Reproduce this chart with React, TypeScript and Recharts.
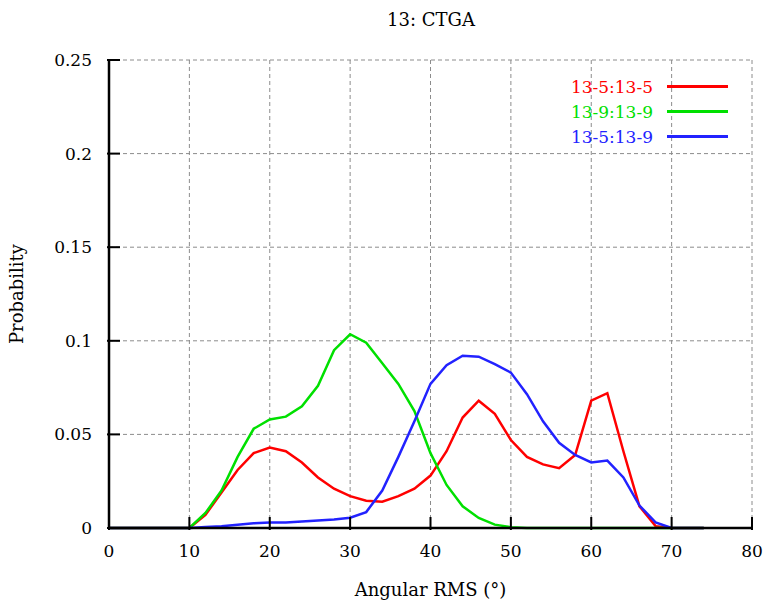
import { LineChart, Line, XAxis, YAxis, CartesianGrid, Legend } from 'recharts';

const angle = [0, 2, 4, 6, 8, 10, 12, 14, 16, 18, 20, 22, 24, 26, 28, 30, 32, 34, 36, 38, 40, 42, 44, 46, 48, 50, 52, 54, 56, 58, 60, 62, 64, 66, 68, 70, 72, 74];

const red55 = [0, 0, 0, 0, 0, 0, 0.007, 0.019, 0.031, 0.04, 0.043, 0.041, 0.035, 0.027, 0.021, 0.017, 0.0146, 0.014, 0.017, 0.021, 0.028, 0.041, 0.059, 0.068, 0.061, 0.047, 0.038, 0.034, 0.032, 0.039, 0.068, 0.072, 0.041, 0.0116, 0.001, 0, 0, 0];
const green99 = [0, 0, 0, 0, 0, 0, 0.008, 0.02, 0.038, 0.053, 0.058, 0.0595, 0.065, 0.076, 0.095, 0.1035, 0.099, 0.088, 0.077, 0.0625, 0.04, 0.023, 0.0116, 0.0054, 0.0018, 0.0004, 0, 0, 0, 0, 0, 0, 0, 0, 0, 0, 0, 0];
const blue59 = [0, 0, 0, 0, 0, 0, 0.0005, 0.001, 0.0017, 0.0025, 0.003, 0.003, 0.0035, 0.004, 0.0045, 0.0055, 0.0085, 0.02, 0.038, 0.057, 0.077, 0.087, 0.092, 0.0915, 0.0875, 0.083, 0.0715, 0.057, 0.0455, 0.039, 0.035, 0.036, 0.027, 0.012, 0.003, 0, 0, 0];

const xTicks = [0, 10, 20, 30, 40, 50, 60, 70, 80];
const yTicks = [0, 0.05, 0.1, 0.15, 0.2, 0.25];

const series = [
  { key: 'red55', name: '13-5:13-5', color: '#ff0000' },
  { key: 'green99', name: '13-9:13-9', color: '#00e000' },
  { key: 'blue59', name: '13-5:13-9', color: '#2222ff' },
];

const data = angle.map((x, i) => ({ x, red55: red55[i], green99: green99[i], blue59: blue59[i] }));

const FONT = '"DejaVu Serif", serif';
const TICK = 13;

const BottomTick = ({ x, y, payload }: any) => (
  <g>
    <line x1={x} y1={y} x2={x} y2={y - TICK} stroke="#000" strokeWidth={2} />
    <text x={x} y={y + 27} textAnchor="middle" fontSize={17} fontFamily={FONT} fill="#000">
      {payload.value}
    </text>
  </g>
);

const TopTick = ({ x, y }: any) => (
  <line x1={x} y1={y} x2={x} y2={y + TICK} stroke="#000" strokeWidth={2} />
);

const LeftTick = ({ x, y, payload }: any) => (
  <g>
    <line x1={x} y1={y} x2={x + TICK} y2={y} stroke="#000" strokeWidth={2} />
    <text x={x - 15} y={y + 6} textAnchor="end" fontSize={17} fontFamily={FONT} fill="#000">
      {String(payload.value)}
    </text>
  </g>
);

const RightTick = ({ x, y }: any) => (
  <line x1={x} y1={y} x2={x - TICK} y2={y} stroke="#000" strokeWidth={2} />
);

const LegendBox = () => (
  <div style={{ fontFamily: FONT }}>
    {series.map((s) => (
      <div key={s.key} style={{ display: 'flex', alignItems: 'center', justifyContent: 'flex-end', height: 25 }}>
        <span style={{ color: s.color, fontSize: 17 }}>{s.name}</span>
        <span style={{ display: 'inline-block', width: 61, height: 3, background: s.color, marginLeft: 14 }} />
      </div>
    ))}
  </div>
);

export default function App() {
  return (
    <div style={{ position: 'absolute', left: 0, top: 0, width: 767, height: 608, background: '#fff' }}>
      <div
        style={{
          position: 'absolute',
          left: 331,
          top: 9,
          width: 200,
          textAlign: 'center',
          fontFamily: FONT,
          fontSize: 18,
          lineHeight: '22px',
          color: '#000',
        }}
      >
        13: CTGA
      </div>
      <LineChart width={767} height={608} data={data} margin={{ top: 60, right: 15, left: 0, bottom: 0 }}>
        <CartesianGrid stroke="#8c8c8c" strokeDasharray="4 3" strokeWidth={1} />
        <XAxis
          dataKey="x"
          type="number"
          domain={[0, 80]}
          ticks={xTicks}
          height={80}
          tickSize={0}
          tickLine={false}
          axisLine={{ stroke: '#000', strokeWidth: 2.5 }}
          tick={<BottomTick />}
          interval={0}
          label={{ value: 'Angular RMS (°)', position: 'insideBottom', offset: 12, fontSize: 18, fontFamily: FONT, fill: '#000' }}
        />
        <XAxis
          xAxisId="top"
          orientation="top"
          dataKey="x"
          type="number"
          domain={[0, 80]}
          ticks={xTicks}
          height={0}
          tickSize={0}
          tickLine={false}
          axisLine={{ stroke: '#000', strokeWidth: 2.5 }}
          tick={<TopTick />}
          interval={0}
        />
        <YAxis
          type="number"
          domain={[0, 0.25]}
          ticks={yTicks}
          width={109}
          tickSize={0}
          tickLine={false}
          axisLine={{ stroke: '#000', strokeWidth: 2.5 }}
          tick={<LeftTick />}
          interval={0}
          label={{
            value: 'Probability',
            angle: -90,
            position: 'insideLeft',
            offset: 17,
            fontSize: 18,
            fontFamily: FONT,
            fill: '#000',
            style: { textAnchor: 'middle' },
          }}
        />
        <YAxis
          yAxisId="right"
          orientation="right"
          type="number"
          domain={[0, 0.25]}
          ticks={yTicks}
          width={0}
          tickSize={0}
          tickLine={false}
          axisLine={{ stroke: '#000', strokeWidth: 2.5 }}
          tick={<RightTick />}
          interval={0}
        />
        {series.map((s) => (
          <Line
            key={s.key}
            type="linear"
            dataKey={s.key}
            name={s.name}
            stroke={s.color}
            strokeWidth={2.5}
            dot={false}
            activeDot={false}
            isAnimationActive={false}
          />
        ))}
        <Legend
          layout="vertical"
          align="center"
          verticalAlign="middle"
          content={<LegendBox />}
          wrapperStyle={{ top: 74, right: 39, left: 'auto', width: 'auto' }}
        />
      </LineChart>
    </div>
  );
}
